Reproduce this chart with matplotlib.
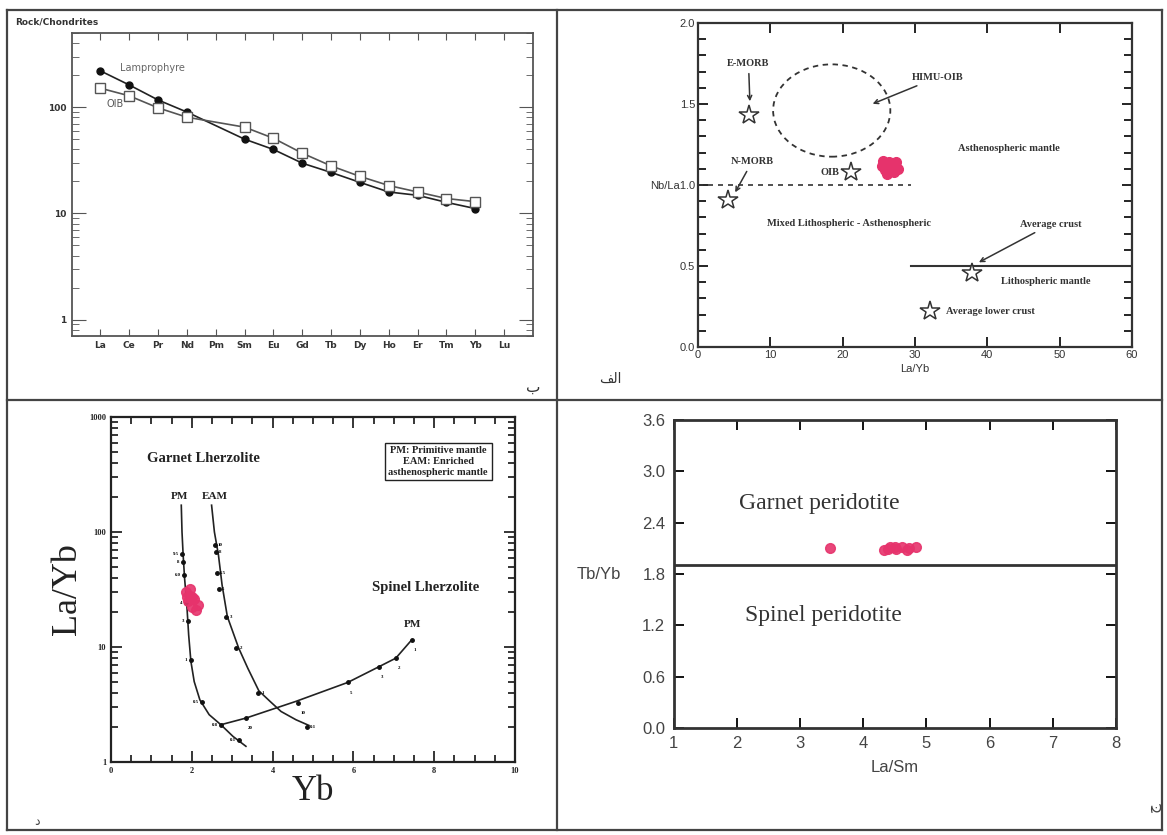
import numpy as np
import matplotlib.pyplot as plt
from matplotlib.patches import Ellipse
from matplotlib.lines import Line2D
from matplotlib.ticker import MultipleLocator, NullFormatter, LogLocator
import matplotlib.transforms as mtrans

# ---- panel ب : chondrite normalised REE ----
ree = ['La', 'Ce', 'Pr', 'Nd', 'Pm', 'Sm', 'Eu', 'Gd', 'Tb', 'Dy', 'Ho', 'Er', 'Tm', 'Yb', 'Lu']
ree_used = ['La', 'Ce', 'Pr', 'Nd', 'Sm', 'Eu', 'Gd', 'Tb', 'Dy', 'Ho', 'Er', 'Tm', 'Yb']
lamprophyre = [220, 162, 117, 90, 50, 40, 29.7, 24.3, 19.6, 15.9, 14.8, 12.7, 11.1]
oib = [151, 128, 98.6, 80.5, 64.9, 51, 36.9, 28, 22.3, 18.3, 15.9, 13.8, 12.9]

# ---- panel الف : Nb/La vs La/Yb ----
ref_names = ['E-MORB', 'N-MORB', 'OIB', 'Average crust', 'Average lower crust']
ref_layb = [7.05, 4.1, 21.2, 37.9, 32.1]
ref_nbla = [1.43, 0.91, 1.08, 0.46, 0.22]
samp_layb = [25.4, 25.9, 26.4, 26.9, 27.4, 27.7, 26.2, 25.6, 27.1, 26.6]
samp_nbla = [1.12, 1.09, 1.14, 1.11, 1.14, 1.10, 1.07, 1.15, 1.08, 1.12]
himu_center = (18.5, 1.46)
himu_size = (16.2, 0.57)
nbla_1_x = [0, 29.5]
nbla_1_y = [1.0, 1.0]
nbla_05_x = [29.5, 60]
nbla_05_y = [0.5, 0.5]

# ---- panel د : La/Yb vs Yb melting curves ----
pm_gt_yb = [1.74, 1.758, 1.786, 1.822, 1.877, 1.923, 1.978, 2.06, 2.20, 2.43, 2.72, 3.02, 3.34]
pm_gt_layb = [171, 100, 63, 39.5, 23.2, 12.7, 7.5, 5.0, 3.47, 2.58, 2.11, 1.67, 1.37]
eam_yb = [2.49, 2.56, 2.66, 2.75, 2.88, 3.16, 3.39, 3.66, 3.94, 4.21, 4.58, 4.9]
eam_layb = [171, 100, 63, 34.6, 18.4, 9.8, 6.5, 4.16, 3.36, 2.75, 2.33, 2.08]
pm_sp_yb = [2.72, 3.34, 4.58, 5.86, 6.64, 7.05, 7.44]
pm_sp_layb = [2.11, 2.41, 3.37, 4.92, 6.76, 8.0, 11.5]
pm_gt_dot_yb = [1.76, 1.78, 1.81, 1.86, 1.90, 1.97, 2.25, 2.72, 3.17]
pm_gt_dot_layb = [65, 55, 42, 24, 17, 7.7, 3.3, 2.1, 1.55]
pm_gt_dot_lab = ['9.5', '8', '6.0', '4', '3', '1', '0.5', '0.8', '0.1']
eam_dot_yb = [2.57, 2.60, 2.62, 2.67, 2.85, 3.10, 3.65, 4.85]
eam_dot_layb = [77, 67, 44, 32, 18.2, 9.8, 4.0, 2.0]
eam_dot_lab = ['10', '8', '6.5', '5', '3', '2', '1', '0.1']
pm_sp_dot_yb = [3.34, 4.63, 5.86, 6.64, 7.05, 7.44]
pm_sp_dot_layb = [2.41, 3.26, 4.92, 6.76, 8.0, 11.5]
pm_sp_dot_lab = ['20', '10', '5', '3', '2', '1']
samp_yb = [1.85, 1.95, 2.05, 1.90, 2.00, 2.10, 2.15, 1.95, 2.00, 1.88]
samp_layb2 = [30, 28, 26, 25, 22.5, 21, 23, 32, 27, 27]

# ---- panel ج : Tb/Yb vs La/Sm ----
samp_lasm = [3.47, 4.33, 4.42, 4.52, 4.62, 4.72, 4.84, 4.50, 4.70, 4.40]
samp_tbyb = [2.10, 2.08, 2.11, 2.09, 2.12, 2.10, 2.11, 2.12, 2.08, 2.09]
tbyb_boundary = 1.9

pink = '#e6336c'
serif = 'Liberation Serif'
sans = 'Liberation Sans'

fig = plt.figure(figsize=(11.67, 8.35), dpi=100)

# frame lines of the composite figure
fx0, fx1, fy0, fy1 = 0.006, 0.9957, 0.006, 0.988
xm, ym = 0.4773, 0.521
for xs, ys in [([fx0, fx1], [fy1, fy1]), ([fx0, fx1], [fy0, fy0]),
               ([fx0, fx0], [fy0, fy1]), ([fx1, fx1], [fy0, fy1]),
               ([xm, xm], [fy0, fy1]), ([fx0, fx1], [ym, ym])]:
    fig.add_artist(Line2D(xs, ys, color='#444444', lw=1.6, transform=fig.transFigure))

# ---------------- top left ----------------
ax1 = fig.add_axes([0.0613, 0.5976, 0.3954, 0.3629])
ax1.set_yscale('log')
xpos = [ree.index(e) + 1 for e in ree_used]
ax1.plot(xpos, lamprophyre, '-o', color='#222222', mfc='#111111', mec='#111111', ms=5, lw=1.2)
ax1.plot(xpos, oib, '-s', color='#555555', mfc='white', mec='#555555', ms=6.5, lw=1.2)
ax1.set_xlim(0, 16)
ax1.set_ylim(0.7, 500)
ax1.set_xticks(range(1, 16))
ax1.set_xticklabels(ree, fontsize=6.5, fontweight='bold', color='#333333')
ax1.set_yticks([1, 10, 100])
ax1.set_yticklabels(['1', '10', '100'], fontsize=6.5, fontweight='bold', color='#333333')
ax1.yaxis.set_minor_locator(LogLocator(subs=np.arange(2, 10)))
ax1.yaxis.set_minor_formatter(NullFormatter())
ax1.tick_params(axis='x', which='both', direction='in', top=True, length=5, color='#555555')
ax1.tick_params(axis='y', which='major', direction='in', right=True, length=10, color='#555555')
ax1.tick_params(axis='y', which='minor', direction='in', right=True, length=5, color='#555555')
for s in ax1.spines.values():
    s.set_color('#555555')
    s.set_linewidth(1.3)
ax1.text(1.67, 236, 'Lamprophyre', fontsize=7, color='#666666', va='center')
ax1.text(1.2, 108, 'OIB', fontsize=7, color='#555555', va='center')
fig.text(0.0133, 0.9737, 'Rock/Chondrites', fontsize=6.5, fontweight='bold', color='#333333', va='center')
fig.text(0.457, 0.5365, '\u0628', fontsize=11, family=['DejaVu Sans'], ha='center', va='center', color='#333333')

# ---------------- top right ----------------
ax2 = fig.add_axes([0.598, 0.5844, 0.372, 0.388])
ax2.set_xlim(0, 60)
ax2.set_ylim(0, 2)
ax2.add_patch(Ellipse(himu_center, himu_size[0], himu_size[1], fill=False, ls=(0, (3, 2.5)), lw=1.3, ec='#333333'))
ax2.plot(nbla_1_x, nbla_1_y, ls=(0, (3, 3)), color='#333333', lw=1.2)
ax2.plot(nbla_05_x, nbla_05_y, '-', color='#333333', lw=1.5)
ax2.plot(ref_layb, ref_nbla, '*', ms=15, mfc='white', mec='#333333', mew=1.1, ls='none')
ax2.plot(samp_layb, samp_nbla, 'o', ms=7, color=pink, mec=pink, ls='none')
tf = dict(fontsize=7.5, fontweight='bold', family=serif, color='#333333')
arr = dict(arrowstyle='->', color='#333333', lw=1.1)
ax2.annotate(ref_names[0], xy=(7.2, 1.5), xytext=(7.0, 1.75), ha='center', va='center', arrowprops=arr, **tf)
ax2.annotate('HIMU-OIB', xy=(23.8, 1.495), xytext=(33.1, 1.664), ha='center', va='center', arrowprops=arr, **tf)
ax2.annotate(ref_names[1], xy=(4.97, 0.94), xytext=(7.5, 1.144), ha='center', va='center', arrowprops=arr, **tf)
ax2.text(19.6, 1.08, ref_names[2], ha='right', va='center', **tf)
ax2.annotate(ref_names[3], xy=(38.5, 0.515), xytext=(48.8, 0.759), ha='center', va='center', arrowprops=arr, **tf)
ax2.text(34.3, 0.222, ref_names[4], ha='left', va='center', **tf)
ax2.text(43, 1.227, 'Asthenospheric mantle', ha='center', va='center', **tf)
ax2.text(20.9, 0.763, 'Mixed Lithospheric - Asthenospheric', ha='center', va='center', **tf)
ax2.text(48.1, 0.402, 'Lithospheric mantle', ha='center', va='center', **tf)
ax2.set_xticks(range(0, 61, 10))
ax2.set_xticklabels([str(v) for v in range(0, 61, 10)], fontsize=8, family=sans, color='#333333')
ax2.set_yticks([0, 0.5, 1.0, 1.5, 2.0])
ax2.set_yticklabels(['0.0', '0.5', 'Nb/La1.0', '1.5', '2.0'], fontsize=8, family=sans, color='#333333')
ax2.yaxis.set_minor_locator(MultipleLocator(0.1))
ax2.tick_params(axis='both', which='major', direction='in', top=True, right=True, length=7, width=1.2, pad=2)
ax2.tick_params(axis='y', which='minor', direction='in', right=True, length=6, width=1.2)
for s in ax2.spines.values():
    s.set_linewidth(1.6)
    s.set_color('#333333')
ax2.set_xlabel('La/Yb', fontsize=8, family=sans, color='#333333', labelpad=3)
fig.text(0.5227, 0.546, '\ufed2\ufedf\ufe8d', fontsize=10, family=['DejaVu Sans'], ha='center', va='center', color='#333333')

# ---------------- bottom left ----------------
ax3 = fig.add_axes([0.0951, 0.0874, 0.3462, 0.4132])
ax3.set_yscale('log')
ax3.set_xlim(0, 10)
ax3.set_ylim(1, 1000)
ax3.plot(pm_gt_yb, pm_gt_layb, '-', color='#222222', lw=1.2)
ax3.plot(eam_yb, eam_layb, '-', color='#222222', lw=1.2)
ax3.plot(pm_sp_yb, pm_sp_layb, '-', color='#222222', lw=1.2)
ax3.plot(pm_gt_dot_yb, pm_gt_dot_layb, 'o', color='#111111', ms=2.5)
ax3.plot(eam_dot_yb, eam_dot_layb, 'o', color='#111111', ms=2.5)
ax3.plot(pm_sp_dot_yb, pm_sp_dot_layb, 'o', color='#111111', ms=2.5)
for x, y, t in zip(pm_gt_dot_yb, pm_gt_dot_layb, pm_gt_dot_lab):
    ax3.text(x - 0.08, y, t, fontsize=3.5, fontweight='bold', ha='right', va='center', family=serif)
for x, y, t in zip(eam_dot_yb, eam_dot_layb, eam_dot_lab):
    ax3.text(x + 0.08, y, t, fontsize=3.5, fontweight='bold', ha='left', va='center', family=serif)
for x, y, t in zip(pm_sp_dot_yb, pm_sp_dot_layb, pm_sp_dot_lab):
    ax3.text(x + 0.05, y * 0.85, t, fontsize=3.5, fontweight='bold', ha='left', va='top', family=serif)
ax3.plot(samp_yb, samp_layb2, 'o', ms=7, color=pink, alpha=0.9, ls='none')
bf = dict(fontweight='bold', family=serif, color='#222222')
ax3.text(2.29, 435, 'Garnet Lherzolite', fontsize=10.5, ha='center', va='center', **bf)
ax3.text(7.78, 32.8, 'Spinel Lherzolite', fontsize=10.5, ha='center', va='center', **bf)
ax3.text(1.69, 202, 'PM', fontsize=8, ha='center', va='center', **bf)
ax3.text(2.56, 202, 'EAM', fontsize=8, ha='center', va='center', **bf)
ax3.text(7.46, 15.6, 'PM', fontsize=8, ha='center', va='center', **bf)
ax3.text(8.1, 410, 'PM: Primitive mantle\nEAM: Enriched\nasthenospheric mantle', fontsize=7.5,
         ha='center', va='center', linespacing=1.25,
         bbox=dict(boxstyle='square,pad=0.35', fc='white', ec='#222222', lw=1.0), **bf)
ax3.set_xticks(range(0, 11, 2))
ax3.set_xticklabels([str(v) for v in range(0, 11, 2)], fontsize=6, **bf)
ax3.xaxis.set_minor_locator(MultipleLocator(0.5))
ax3.set_yticks([1, 10, 100, 1000])
ax3.set_yticklabels(['1', '10', '100', '1000'], fontsize=6, **bf)
ax3.yaxis.set_minor_locator(LogLocator(subs=np.arange(2, 10)))
ax3.yaxis.set_minor_formatter(NullFormatter())
ax3.tick_params(axis='both', which='major', direction='in', top=True, right=True, length=8, width=1.1)
ax3.tick_params(axis='both', which='minor', direction='in', top=True, right=True, length=5, width=1.1)
for s in ax3.spines.values():
    s.set_linewidth(1.6)
    s.set_color('#222222')
ax3.set_xlabel('Yb', fontsize=25, family=serif, color='#222222', labelpad=0)
ax3.set_ylabel('La/Yb', fontsize=26, family=serif, color='#222222', labelpad=4)
fig.text(0.0317, 0.0156, '\u062f', fontsize=9, family=['DejaVu Sans'], ha='center', va='center', color='#444444')

# ---------------- bottom right ----------------
ax4 = fig.add_axes([0.5772, 0.1281, 0.3791, 0.3689])
ax4.set_xlim(1, 8)
ax4.set_ylim(0, 3.6)
ax4.axhline(tbyb_boundary, color='#333333', lw=2)
ax4.plot(samp_lasm, samp_tbyb, 'o', ms=7, color=pink, alpha=0.9, ls='none')
ax4.text(2.03, 2.63, 'Garnet peridotite', fontsize=17, family=serif, color='#333333', va='center')
ax4.text(2.13, 1.32, 'Spinel peridotite', fontsize=17, family=serif, color='#333333', va='center')
ax4.set_xticks(range(1, 9))
ax4.set_xticklabels([str(v) for v in range(1, 9)], fontsize=12, family=sans, color='#444444')
ax4.set_yticks(np.arange(0, 3.7, 0.6))
ax4.set_yticklabels(['0.0', '0.6', '1.2', '1.8', '2.4', '3.0', '3.6'], fontsize=12, family=sans, color='#444444')
ax4.tick_params(axis='both', direction='in', top=True, right=True, length=7, width=1.3, pad=6)
for s in ax4.spines.values():
    s.set_linewidth(2)
    s.set_color('#333333')
ax4.set_xlabel('La/Sm', fontsize=12, family=sans, color='#444444', labelpad=6)
tr = mtrans.blended_transform_factory(ax4.transAxes, ax4.transData)
ax4.text(-0.118, 1.8, 'Tb/Yb', transform=tr, fontsize=12, family=sans, color='#444444', ha='right', va='center')
fig.text(0.988, 0.0335, '\u062c', fontsize=11, family=['DejaVu Sans'], ha='center', va='center', rotation=90, color='#444444')

fig.savefig('out.png', dpi=100)
